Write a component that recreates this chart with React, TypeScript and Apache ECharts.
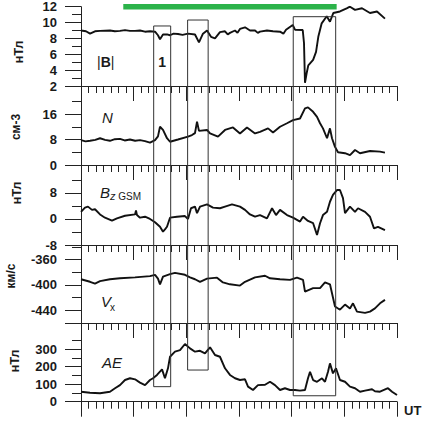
import React, { useEffect, useRef } from "react";
import * as echarts from "echarts";

// time axis (arbitrary UT units): 6 major intervals, 7 minor sub-intervals each
const X_MIN = 0;
const X_MAX = 42;
const X_MAJOR = 7;

// |B|, nT
const B_DATA = [
  [0, 9.0], [0.66, 8.9], [1.2, 8.6], [1.86, 8.9], [2.53, 8.95], [3.85, 9.0], [4.5, 8.9], [5.18, 8.95], [5.85, 9.05],
  [6.5, 8.95], [7.18, 8.95], [7.84, 9.0], [8.5, 8.85], [9.17, 8.9], [9.84, 8.85], [10.23, 8.4], [10.5, 7.9], [10.9, 8.5], [11.43, 8.5],
  [11.83, 8.4], [12.3, 8.6], [12.89, 8.55], [13.5, 8.45], [14.22, 8.6], [15.15, 8.5], [15.68, 7.5], [16.21, 8.6], [16.75, 9.0], [17.28, 8.2],
  [17.81, 8.0], [18.47, 8.8], [19.14, 8.9], [19.5, 8.5], [19.8, 8.7], [20.47, 9.0], [20.8, 8.7], [21.13, 9.2], [21.8, 9.4], [22.46, 9.0],
  [23.13, 9.0], [23.5, 8.7], [23.79, 8.85], [24.72, 9.0], [25.52, 8.9], [26.45, 8.85], [26.9, 8.6], [27.25, 9.1], [28.14, 9.7], [28.44, 9.1],
  [29.47, 9.06], [29.64, 7.4], [29.77, 2.4], [29.99, 3.6], [30.21, 4.6], [30.85, 5.3], [31.24, 6.3], [31.54, 8.2],
  [31.99, 9.9], [32.66, 10.8], [33.09, 10.1], [33.53, 11.2], [34.42, 11.4], [35.31, 11.8], [35.75, 12.0],
  [36.42, 11.6], [37.35, 11.8], [38.41, 11.2], [39.34, 11.4], [40.4, 10.5],
];

// N, cm^-3
const N_DATA = [
  [0, 7.8], [0.6, 7.4], [1.2, 7.6], [1.9, 7.9], [2.53, 8.4], [3.2, 7.9], [3.85, 7.6], [4.5, 8.1], [5.18, 8.2], [5.8, 7.7], [6.51, 8.0],
  [7.2, 7.6], [7.84, 7.8], [8.5, 7.5], [9.17, 7.0],
  [9.84, 7.8], [10.23, 9.0], [10.5, 12.0], [10.9, 11.0], [11.43, 8.4], [11.83, 7.3], [12.89, 8.0], [14.22, 8.9],
  [14.75, 9.4], [15.15, 10.0], [15.42, 13.6], [15.68, 10.7], [16.75, 11.0], [17.15, 9.9], [18.21, 8.9],
  [19.14, 11.0], [20.2, 11.8], [21.13, 9.9], [22.06, 11.8], [23.13, 9.9], [23.79, 10.4], [24.86, 11.5],
  [25.52, 10.2], [26.45, 12.0], [27.38, 13.1], [28.18, 14.1], [29.11, 14.6], [29.77, 17.8], [30.17, 18.1],
  [30.85, 16.7], [31.37, 15.1], [31.77, 13.1], [32.16, 11.5], [32.7, 8.4], [33.09, 11.5], [33.36, 8.4],
  [33.76, 5.7], [34.16, 4.0], [35.09, 3.7], [35.75, 3.1], [36.42, 4.7], [37.08, 3.7], [38.41, 4.4],
  [39.74, 4.2], [40.4, 3.9],
];

// Bz GSM, nT
const BZ_DATA = [
  [0, 2.2], [0.53, 3.5], [0.93, 3.8], [1.46, 2.8], [1.86, 3.0], [2.53, 1.4], [3.19, 0.4], [4.12, -0.5],
  [4.78, 0.2], [5.85, 1.0], [7.18, 1.4], [7.31, 2.6], [7.44, 1.2], [7.84, 0.4], [8.51, 0.7], [9.17, 0],
  [9.84, -1.0], [10.5, -2.4], [10.9, -3.9], [11.16, -3.2], [11.43, -2.4], [11.83, 0.4], [12.76, 0.7],
  [13.82, 0.9], [14.22, 0], [14.62, 3.3], [15.15, 3.8], [15.42, 1.8], [15.82, 3.8], [16.75, 4.5], [17.54, 3.5],
  [18.47, 3.3], [19.14, 3.8], [20.07, 4.5], [21.13, 3.8], [21.8, 2.8], [22.46, 1.4], [23.13, 0.7], [23.79, 1.2],
  [24.72, 0.2], [25.39, 3.3], [25.92, 1.2], [26.45, 2.8], [27.38, 1.2], [28.18, 0.4], [29.11, -0.8],
  [29.51, 0.7], [30.17, -0.6], [30.85, -1.3], [31.37, -4.9], [31.77, -1.3], [32.16, 1.2], [32.7, 2.2],
  [33.09, 5.3], [33.49, 7.4], [34.02, 8.9], [34.42, 8.9], [34.82, 6.4], [35.09, 1.8], [35.75, 3.8],
  [36.42, 2.2], [36.82, 3.3], [37.75, 2.2], [38.41, 0.7], [38.94, -2.9], [39.47, -2.4], [40.4, -3.4],
];

// Vx, km/s
const VX_DATA = [
  [0, -391], [1.2, -395], [1.86, -398], [2.53, -394], [3.85, -391], [5.18, -389.5], [7.18, -388], [9.17, -386],
  [9.84, -384], [10.23, -390], [10.5, -399], [10.9, -387], [11.83, -383], [12.49, -381], [13.82, -384],
  [14.49, -388], [15.15, -391], [15.82, -395], [16.75, -390], [18.08, -388.5], [18.87, -396], [19.8, -399],
  [21.13, -401], [21.8, -395], [23.13, -388], [24.46, -385.5], [25.12, -389.5], [26.45, -391], [27.78, -392],
  [28.71, -388.5], [29.51, -392], [29.77, -410.5], [30.85, -405], [31.77, -405], [32.43, -396], [33.09, -399],
  [33.36, -413], [33.76, -434], [34.42, -439], [35.09, -431], [35.75, -437], [36.15, -429], [36.68, -442],
  [37.75, -444], [38.41, -442], [39.07, -437], [39.74, -429], [40.4, -423.5],
];

// AE, nT
const AE_DATA = [
  [0, 57], [1.2, 51], [2.53, 48], [3.85, 57], [4.52, 77], [5.18, 95], [5.85, 124], [6.51, 134], [7.18, 128],
  [7.84, 109], [8.51, 95], [9.17, 124], [9.57, 134], [10.1, 153], [10.77, 185], [11.16, 134], [11.56, 191],
  [11.83, 257], [12.49, 286], [13.16, 295], [13.82, 330], [14.49, 305], [15.15, 286], [15.82, 291],
  [16.48, 276], [17.15, 311], [17.81, 267], [18.47, 257], [19.14, 191], [19.8, 153], [20.47, 134],
  [21.13, 124], [21.8, 128], [22.2, 86], [22.86, 67], [23.52, 95], [24.46, 97], [25.12, 114], [25.78, 95],
  [26.45, 67], [27.11, 77], [27.78, 67], [28.44, 67], [29.11, 63], [29.77, 67], [30.17, 134], [30.44, 171],
  [30.85, 124], [31.37, 114], [32.03, 134], [32.43, 114], [32.83, 171], [33.09, 219], [33.49, 162],
  [33.89, 191], [34.42, 124], [35.09, 114], [35.75, 86], [36.42, 77], [37.08, 57], [37.75, 63], [38.68, 71],
  [39.07, 60], [39.74, 57], [40.8, 77], [41.34, 57], [42, 38],
];

// y-axis extents and tick values per panel
const B_RANGE = [2, 12];
const B_LABELS = [2, 4, 6, 8, 10, 12];
const B_MINOR = [3, 5, 7, 9, 11];
const N_RANGE = [0, 24.8];
const N_LABELS = [0, 8, 16];
const N_MINOR = [4, 12, 20];
const BZ_RANGE = [-8, 16.6];
const BZ_LABELS = [-8, 0, 8];
const BZ_MINOR = [-4, 4, 12];
const VX_RANGE = [-460, -337];
const VX_LABELS = [-440, -400, -360];
const VX_MAJOR_EXTRA = [-460];
const VX_MINOR = [-420, -380, -340];
const AE_RANGE = [0, 450];
const AE_LABELS = [0, 100, 200, 300];
const AE_MINOR = [50, 150, 250, 350];

// highlighted intervals (time), their top (|B| units) and bottom (AE units)
const BOX_T = [[9.66, 11.92], [14.17, 16.9], [28.21, 33.85]];
const BOX_TOP_B = [9.57, 10.32, 10.74];
const BOX_BOTTOM_AE = [86, 181, 34];
const BOX_NAMES = ["1", "", ""];
// green interval bar above |B|
const GREEN_T = [5.62, 33.98];
const GREEN_B = [12.35, 11.65];

const FONT = '"Liberation Sans", Arial, sans-serif';
const INK = "#1a1a1a";

const GRIDS = [
  { top: 6.7, height: 79.3 },
  { top: 86, height: 79 },
  { top: 165, height: 80 },
  { top: 245, height: 78 },
  { top: 323, height: 78.7 },
];

const PANELS = [
  { data: B_DATA, range: B_RANGE, labels: B_LABELS, major: B_LABELS, minor: B_MINOR },
  { data: N_DATA, range: N_RANGE, labels: N_LABELS, major: N_LABELS, minor: N_MINOR },
  { data: BZ_DATA, range: BZ_RANGE, labels: BZ_LABELS, major: BZ_LABELS, minor: BZ_MINOR },
  { data: VX_DATA, range: VX_RANGE, labels: VX_LABELS, major: [...VX_MAJOR_EXTRA, ...VX_LABELS], minor: VX_MINOR },
  { data: AE_DATA, range: AE_RANGE, labels: AE_LABELS, major: AE_LABELS, minor: AE_MINOR },
];

function buildOption() {
  const axisLineStyle = { color: "#222", width: 1 };
  const xAxis = PANELS.map((_, k) => ({
    gridIndex: k,
    type: "value",
    min: X_MIN,
    max: X_MAX,
    interval: X_MAJOR,
    axisLine: { show: true, onZero: false, lineStyle: axisLineStyle },
    axisTick: { show: true, length: 15, lineStyle: axisLineStyle },
    minorTick: { show: true, splitNumber: 7, length: 7, lineStyle: axisLineStyle },
    axisLabel: { show: false },
    splitLine: { show: false },
    minorSplitLine: { show: false },
  }));
  const yAxis: any[] = [];
  PANELS.forEach((p, k) => {
    yAxis.push({
      gridIndex: k,
      type: "value",
      position: "left",
      min: p.range[0],
      max: p.range[1],
      axisLine: { show: true, onZero: false, lineStyle: axisLineStyle },
      axisTick: { show: true, length: 16, customValues: p.major, lineStyle: axisLineStyle },
      axisLabel: {
        show: true,
        customValues: p.labels,
        margin: 24,
        fontSize: 13,
        fontWeight: "bold",
        fontFamily: FONT,
        color: INK,
      },
      splitLine: { show: false },
    });
    yAxis.push({
      gridIndex: k,
      type: "value",
      position: "left",
      min: p.range[0],
      max: p.range[1],
      axisLine: { show: false, onZero: false },
      axisTick: { show: true, length: 9, customValues: p.minor, lineStyle: axisLineStyle },
      axisLabel: { show: false },
      splitLine: { show: false },
    });
  });
  const series = PANELS.map((p, k) => ({
    type: "line",
    xAxisIndex: k,
    yAxisIndex: 2 * k,
    data: p.data,
    showSymbol: false,
    silent: true,
    lineStyle: { color: "#111", width: 1.9 },
  }));
  return {
    animation: false,
    backgroundColor: "#fff",
    grid: GRIDS.map((g) => ({ left: 81, right: 29, top: g.top, height: g.height })),
    xAxis,
    yAxis,
    series,
  };
}

function txt(x: number, y: number, text: string, font: string, extra: any = {}) {
  return {
    type: "text",
    x,
    y,
    z: 20,
    ...extra,
    style: { text, font, fill: INK, align: "left", verticalAlign: "middle", ...(extra.style || {}) },
  };
}

export default function App() {
  const ref = useRef<HTMLDivElement>(null);
  useEffect(() => {
    const el = ref.current!;
    const chart = echarts.init(el, null, { renderer: "svg" });
    chart.setOption(buildOption() as any);
    const px = (k: number, t: number, v: number) =>
      chart.convertToPixel({ xAxisIndex: k, yAxisIndex: 2 * k } as any, [t, v]) as number[];

    const els: any[] = [];
    // green bar
    const g0 = px(0, GREEN_T[0], GREEN_B[0]);
    const g1 = px(0, GREEN_T[1], GREEN_B[1]);
    els.push({
      type: "rect",
      z: 5,
      shape: { x: g0[0], y: g0[1], width: g1[0] - g0[0], height: g1[1] - g0[1] },
      style: { fill: "#2cb34a" },
    });
    // boxes
    BOX_T.forEach(([t0, t1], i) => {
      const p0 = px(0, t0, BOX_TOP_B[i]);
      const p1 = px(4, t1, BOX_BOTTOM_AE[i]);
      els.push({
        type: "rect",
        z: 10,
        shape: { x: p0[0], y: p0[1], width: p1[0] - p0[0], height: p1[1] - p0[1] },
        style: { fill: "none", stroke: "#333", lineWidth: 1 },
      });
      if (BOX_NAMES[i]) {
        els.push(
          txt((p0[0] + p1[0]) / 2, 62, BOX_NAMES[i], `bold 14px ${FONT}`, { style: { align: "center" } })
        );
      }
    });
    // axis titles (rotated)
    const rot = { rotation: Math.PI / 2, style: { align: "center" } };
    els.push(txt(18, 52, "нТл", `bold 13px ${FONT}`, rot));
    els.push(txt(16, 127, "см-3", `bold 12px ${FONT}`, rot));
    els.push(txt(16, 193, "нТл", `bold 13px ${FONT}`, rot));
    els.push(txt(11, 276, "км/с", `bold 12px ${FONT}`, rot));
    els.push(txt(14, 361, "нТл", `bold 13px ${FONT}`, rot));
    // panel labels
    els.push(
      txt(97, 62, "{n||}{b|B}{n||}", `14px ${FONT}`, {
        style: {
          rich: {
            n: { font: `14px ${FONT}`, fill: INK },
            b: { font: `bold 14px ${FONT}`, fill: INK },
          },
        },
      })
    );
    els.push(txt(102, 117, "N", `italic 15px ${FONT}`));
    els.push(txt(100, 192, "B", `italic 15px ${FONT}`));
    els.push(
      txt(110, 196, "{i|z}{r| GSM}", `10px ${FONT}`, {
        style: {
          rich: {
            i: { font: `italic 11px ${FONT}`, fill: INK },
            r: { font: `10px ${FONT}`, fill: INK },
          },
        },
      })
    );
    els.push(txt(101, 301, "V", `italic 15px ${FONT}`));
    els.push(txt(110, 307, "x", `10px ${FONT}`));
    els.push(txt(102, 362, "AE", `italic 15px ${FONT}`));
    els.push(txt(404, 410, "UT", `bold 13px ${FONT}`));

    chart.setOption({ graphic: { elements: els } } as any);
    return () => chart.dispose();
  }, []);
  return (
    <div
      ref={ref}
      style={{ position: "absolute", left: 0, top: 0, width: 426, height: 423, background: "#fff" }}
    />
  );
}
